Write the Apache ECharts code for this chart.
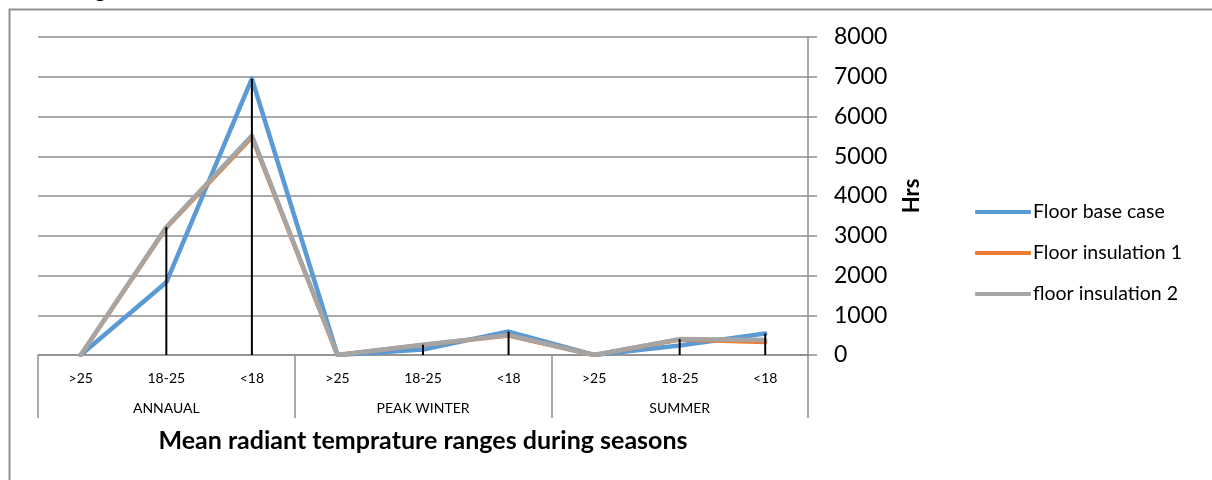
<!DOCTYPE html>
<html>
<head>
<meta charset="utf-8">
<script src="https://cdn.jsdelivr.net/npm/echarts@6/dist/echarts.min.js"></script>
<style>
html,body{margin:0;padding:0;background:#fff;}
#c{width:1212px;height:480px;}
</style>
</head>
<body>
<div id="c"></div>
<script>
const categories = ['>25', '18-25', '<18', '>25', '18-25', '<18', '>25', '18-25', '<18'];
const groups = ['ANNAUAL', 'PEAK WINTER', 'SUMMER'];
const baseCase = [0, 1830, 6950, 0, 140, 590, 0, 240, 540];
const insulation1 = [0, 3200, 5480, 0, 255, 490, 0, 390, 330];
const insulation2 = [0, 3220, 5520, 0, 260, 500, 0, 400, 380];
const yTicks = [0, 1000, 2000, 3000, 4000, 5000, 6000, 7000, 8000];

const dropLines = categories.map((c, i) => Math.max(baseCase[i], insulation1[i], insulation2[i]));

const FONT = 'Lato';
const chart = echarts.init(document.getElementById('c'));
const lineStyleBase = { width: 4.5, cap: 'round', join: 'round' };

chart.setOption({
  animation: false,
  textStyle: { fontFamily: FONT },
  graphic: [
    { type: 'rect', shape: { x: 9.5, y: 9.5, width: 1300, height: 600 },
      style: { fill: 'none', stroke: '#8f8f8f', lineWidth: 2 }, silent: true },
    { type: 'text', x: 78, y: 1,
      style: { text: 'Figure', font: '21px Lato', fill: '#000', verticalAlign: 'bottom' } }
  ],
  grid: { left: 38, right: 404, top: 37, bottom: 125, containLabel: false },
  legend: {
    orient: 'vertical', left: 970, top: 197,
    itemWidth: 56, itemHeight: 4, itemGap: 21, icon: 'roundRect',
    textStyle: { fontFamily: FONT, fontSize: 19.5, color: '#000', lineHeight: 20, padding: [0, 0, 0, -3] },
    data: ['Floor base case', 'Floor insulation 1', 'floor insulation 2']
  },
  xAxis: [
    {
      type: 'category', data: categories, gridIndex: 0, position: 'bottom',
      axisLine: { lineStyle: { color: '#8e8e8e', width: 1.5 } },
      axisTick: { show: false },
      axisLabel: { color: '#000', fontSize: 14, margin: 16, interval: 0, fontFamily: FONT }
    },
    {
      type: 'category', data: groups, gridIndex: 0, position: 'bottom',
      axisLine: { show: false },
      axisTick: { show: true, length: 63, lineStyle: { color: '#8e8e8e', width: 1.5 } },
      axisLabel: { color: '#000', fontSize: 14, margin: 46, interval: 0, fontFamily: FONT },
      name: 'Mean radiant temprature ranges during seasons',
      nameLocation: 'middle', nameGap: 73,
      nameTextStyle: { fontSize: 25, fontWeight: 'bold', color: '#000', fontFamily: FONT }
    }
  ],
  yAxis: {
    type: 'value', position: 'right', min: 0, max: 8000, interval: 1000,
    axisLine: { show: true, lineStyle: { color: '#8e8e8e', width: 1.5 } },
    axisTick: { show: true, length: 9, lineStyle: { color: '#8e8e8e', width: 1.5 } },
    splitLine: { show: true, lineStyle: { color: '#8e8e8e', width: 1.5 } },
    axisLabel: { color: '#000', fontSize: 23, margin: 26, fontFamily: FONT,
      formatter: v => (yTicks.indexOf(v) >= 0 ? String(v) : '') },
    name: 'Hrs', nameLocation: 'middle', nameGap: 93, nameRotate: 90,
    nameTextStyle: { fontSize: 22, fontWeight: 'bold', color: '#000', fontFamily: FONT }
  },
  series: [
    { name: 'Floor base case', type: 'line', data: baseCase, symbol: 'none', z: 2,
      color: '#5B9BD5', lineStyle: Object.assign({ color: '#5B9BD5' }, lineStyleBase) },
    { name: 'Floor insulation 1', type: 'line', data: insulation1, symbol: 'none', z: 3,
      color: '#ED7D31', lineStyle: Object.assign({ color: '#ED7D31' }, lineStyleBase) },
    { name: 'floor insulation 2', type: 'line', data: insulation2, symbol: 'none', z: 4,
      color: '#A5A5A5', lineStyle: Object.assign({ color: '#A5A5A5' }, lineStyleBase) },
    { name: 'drop', type: 'bar', data: dropLines, barWidth: 2, z: 5, xAxisIndex: 0,
      itemStyle: { color: '#000' }, silent: true }
  ]
});
</script>
</body>
</html>
